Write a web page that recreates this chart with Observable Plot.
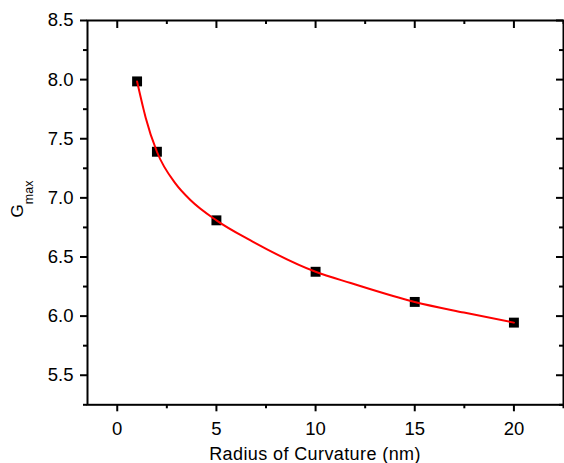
<!DOCTYPE html>
<html><head><meta charset="utf-8">
<script src="https://cdn.jsdelivr.net/npm/d3@7"></script>
<script src="https://cdn.jsdelivr.net/npm/@observablehq/plot@0.6"></script>
<style>html,body{margin:0;padding:0;background:#fff;}</style>
</head><body><div id="chart"></div>
<script>
// Measured data points
const radius = [1, 2, 5, 10, 15, 20];
const gmax = [7.985, 7.39, 6.81, 6.375, 6.12, 5.945];
// Fitted curve
const fitRadius = [1, 1.34, 1.43, 2, 2.94, 3.7, 5, 6.72, 10, 11.77, 15, 17.48, 20];
const fitG = [7.985, 7.74, 7.68, 7.39, 7.12, 6.98, 6.81, 6.64, 6.375, 6.28, 6.12, 6.03, 5.945];
// Tick values
const xMajor = [0, 5, 10, 15, 20];
const xMinor = [2.5, 7.5, 12.5, 17.5, 22.5];
const yMajor = [5.5, 6.0, 6.5, 7.0, 7.5, 8.0, 8.5];
const yMinor = [5.25, 5.75, 6.25, 6.75, 7.25, 7.75, 8.25];
const xLabel = "Radius of Curvature (nm)";
const yLabelMain = "G";
const yLabelSub = "max";

const points = radius.map((r, i) => ({r, g: gmax[i]}));
const fit = fitRadius.map((r, i) => ({r, g: fitG[i]}));

const W = 564, H = 463;
const mL = 87, mR = 1, mT = 20, mB = 58.7;
const plotW = W - mL - mR, plotH = H - mT - mB;
const font = "'Liberation Sans', Arial, Helvetica, sans-serif";

const plot = Plot.plot({
  width: W, height: H,
  marginLeft: mL, marginRight: mR, marginTop: mT, marginBottom: mB,
  x: {domain: [-1.5, 22.5]},
  y: {domain: [5.25, 8.5]},
  style: {fontFamily: font, fontSize: "18px", color: "black", background: "white"},
  marks: [
    Plot.axisY({ticks: yMajor, tickSize: 7, tickPadding: 7, tickFormat: d3.format(".1f"), label: null, strokeWidth: 2, fontSize: 18, fill: "black"}),
    Plot.axisY({ticks: yMinor, tickSize: 4, tickFormat: () => "", label: null, strokeWidth: 2}),
    Plot.axisX({ticks: xMajor, tickSize: 7, tickPadding: 10, tickFormat: d3.format("d"), label: null, strokeWidth: 2, fontSize: 18, fill: "black"}),
    Plot.axisX({ticks: xMinor, tickSize: 4, tickFormat: () => "", label: null, strokeWidth: 2}),
    // inward mirror ticks on top and right
    Plot.tickX(xMajor, {x: d => d, insetBottom: plotH - 8, strokeWidth: 2, stroke: "black"}),
    Plot.tickX(xMinor, {x: d => d, insetBottom: plotH - 4, strokeWidth: 2, stroke: "black"}),
    Plot.tickY(yMajor, {y: d => d, insetLeft: plotW - 7, strokeWidth: 2, stroke: "black"}),
    Plot.tickY(yMinor, {y: d => d, insetLeft: plotW - 4, strokeWidth: 2, stroke: "black"}),
    Plot.frame({stroke: "black", strokeWidth: 2}),
    Plot.dot(points, {x: "r", y: "g", symbol: "square", r: 5.6, fill: "black", stroke: "none"}),
    Plot.line(fit, {x: "r", y: "g", stroke: "#ff0000", strokeWidth: 2, curve: "monotone-x"})
  ]
});

document.getElementById("chart").appendChild(plot);

const svg = d3.select(plot);
// make sure tick labels get the intended size and face
svg.selectAll("text")
  .style("font-size", "18.5px")
  .style("font-family", font)
  .attr("fill", "black");

svg.append("text")
  .attr("x", 315).attr("y", 460)
  .attr("text-anchor", "middle")
  .attr("fill", "black")
  .style("font-family", font)
  .style("font-size", "18px")
  .style("letter-spacing", "0.4px")
  .text(xLabel);

const yl = svg.append("text")
  .attr("transform", "translate(23,199) rotate(-90)")
  .attr("text-anchor", "middle")
  .attr("fill", "black")
  .style("font-family", font)
  .style("font-size", "17px");
yl.append("tspan").text(yLabelMain);
yl.append("tspan").attr("dy", 9.5).style("font-size", "12.5px").text(yLabelSub);
</script>
</body></html>
